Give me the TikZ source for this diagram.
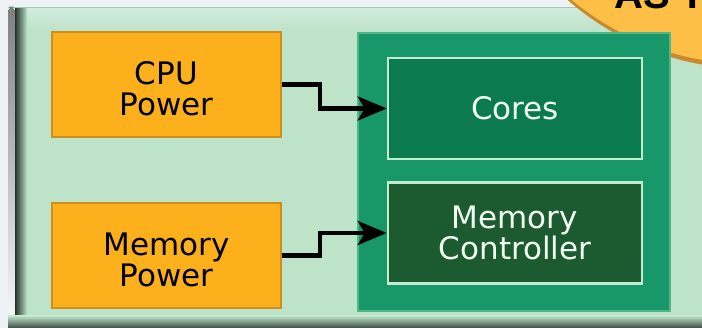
\documentclass[tikz,border=0pt]{standalone}
\usepackage{fontspec}
\setmainfont{DejaVu Sans}
\newfontfamily\badgefont{Liberation Sans}
\usetikzlibrary{arrows.meta}
\newcommand\lowstrut{\rule{0pt}{32pt}}
\definecolor{bggray}{HTML}{EEF2F5}
\definecolor{panel}{HTML}{BDE3C9}
\definecolor{paneltop}{HTML}{D2ECDD}
\definecolor{paneledge}{HTML}{9CCFAE}
\definecolor{shade}{HTML}{22332A}
\definecolor{shadelow}{HTML}{3E4B45}
\definecolor{pwrfill}{HTML}{FBB01C}
\definecolor{pwredge}{HTML}{D08E1E}
\definecolor{socfill}{HTML}{17976A}
\definecolor{socedge}{HTML}{52B586}
\definecolor{corefill}{HTML}{0B7A4F}
\definecolor{ctlfill}{HTML}{1C5A2F}
\definecolor{inedge}{HTML}{C2EBCF}
\definecolor{badge}{HTML}{FDBF45}
\definecolor{badgedark}{HTML}{C98A2E}
\begin{document}
\begin{tikzpicture}[x=1pt, y=-1pt, line join=miter, >={Stealth[length=29pt,width=24pt,inset=7pt]}, font=\fontsize{31}{31}\selectfont,
	pwr/.style={draw=pwredge, line width=1.5pt, fill=pwrfill, minimum width=229pt, minimum height=105pt, align=center, text=black},
	blk/.style={draw=inedge, line width=2.5pt, minimum width=254pt, minimum height=101pt, align=center, text=white!95!green},
	socbox/.style={draw=socedge, line width=1.5pt, fill=socfill, minimum width=312pt, minimum height=278pt},
	link/.style={->, line width=4.3pt}]
	\useasboundingbox (0,0) rectangle (702,328);
	\fill[bggray] (0,0) rectangle (702,328);
	% panel and its shadow
	\fill[panel] (8,7) rectangle (702,328);
	\shade[top color=paneltop, bottom color=panel] (8,8) rectangle (702,30);
	\draw[paneledge, line width=1.5pt] (8,7.75) -- (702,7.75);
	\fill[shade, rounded corners=6pt] (8,7) rectangle (15,340);
	\shade[left color=shade, right color=panel] (15,9) rectangle (27,328);
	\shade[top color=panel, bottom color=shadelow] (8,316) rectangle (702,328);
	% badge
	\begin{scope}
		\clip (0,0) rectangle (702,328);
		\fill[badgedark] (752,-212) circle (281);
		\fill[badge] (750,-216) circle (280);
		\node[anchor=base west, inner sep=0pt, font=\badgefont\bfseries\fontsize{40}{40}\selectfont] (badgetxt) at (614,9) {AS T};
	\end{scope}
	\path
	(166.5,84.5) coordinate (P1)
	(166.5,255.5) coordinate (P2)
	(514,172) coordinate (S)
	(515,108.5) coordinate (C1)
	(515,233) coordinate (C2);
	\node[socbox] (soc) at (S) {};
	\node[pwr] (cpu) at (P1) {\lowstrut CPU\\Power};
	\node[pwr] (mem) at (P2) {\lowstrut Memory\\Power};
	\node[blk, fill=corefill] (cores) at (C1) {Cores};
	\node[blk, fill=ctlfill] (ctl) at (C2) {Memory\\Controller};
	\foreach \s/\t in {cpu/cores, mem/ctl}
	\draw[link] (\s.east) -- ++(38,0) |- (\t.west);
\end{tikzpicture}
\end{document}
